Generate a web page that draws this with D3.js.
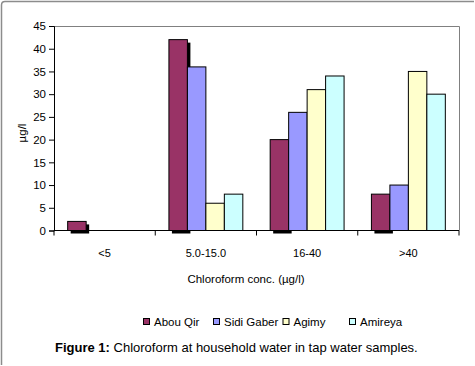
<!DOCTYPE html>
<html>
<head>
<meta charset="utf-8">
<script src="https://cdn.jsdelivr.net/npm/d3@7"></script>
<style>
  body { margin: 0; background: #fff; }
  svg { display: block; font-family: "Liberation Sans", Arial, sans-serif; }
</style>
</head>
<body>
<svg id="chart"></svg>
<script>
var width = 475
var height = 366

var categories = ["<5", "5.0-15.0", "16-40", ">40"]
var seriesNames = ["Abou Qir", "Sidi Gaber", "Agimy", "Amireya"]
var abouQir = [2, 42, 20, 8]
var sidiGaber = [0, 36, 26, 10]
var agimy = [0, 6, 31, 35]
var amireya = [0, 8, 34, 30]
var yTicks = [0, 5, 10, 15, 20, 25, 30, 35, 40, 45]

var colors = ["#993366", "#9999ff", "#ffffcc", "#ccffff"]
var seriesValues = [abouQir, sidiGaber, agimy, amireya]

var svg = d3.select("#chart")
    .attr("width", width)
    .attr("height", height)

// outer figure frame (top + left only)
svg.append("path")
    .attr("d", "M1.5,365 L1.5,5 Q1.5,1.5 5,1.5 L474,1.5")
    .attr("fill", "none")
    .attr("stroke", "#8c8c8c")
    .attr("stroke-width", 1.5)

var plotLeft = 54, plotRight = 459, plotTop = 26, plotBottom = 230.5

var x = d3.scaleBand()
    .domain(categories)
    .range([plotLeft, plotRight])
    .paddingInner(0)
    .paddingOuter(0)

var xs = d3.scaleBand()
    .domain(seriesNames)
    .range([0, x.bandwidth()])
    .paddingOuter(0.74)
    .paddingInner(0)

var y = d3.scaleLinear()
    .domain([0, 45])
    .range([plotBottom, plotTop])

// plot area border (top/right gray)
svg.append("path")
    .attr("d", `M${plotLeft},${plotTop + 0.5} L${plotRight + 0.5},${plotTop + 0.5} L${plotRight + 0.5},${plotBottom}`)
    .attr("fill", "none")
    .attr("stroke", "#808080")
    .attr("stroke-width", 1)

var rows = []
categories.forEach(function(c, i) {
    seriesNames.forEach(function(s, j) {
        if (seriesValues[j][i] > 0)
            rows.push({cat: c, series: s, value: seriesValues[j][i], color: colors[j]})
    })
})

// shadow behind Abou Qir bars
svg.append("g")
    .selectAll("rect")
    .data(rows.filter(d => d.series == "Abou Qir"))
    .enter()
    .append("rect")
        .attr("x", d => x(d.cat) + xs(d.series) + 3)
        .attr("y", d => y(d.value) + 3)
        .attr("width", xs.bandwidth())
        .attr("height", d => plotBottom - y(d.value))
        .attr("fill", "#000")

svg.append("g")
    .selectAll("rect")
    .data(rows)
    .enter()
    .append("rect")
        .attr("x", d => x(d.cat) + xs(d.series))
        .attr("y", d => y(d.value))
        .attr("width", xs.bandwidth())
        .attr("height", d => plotBottom - y(d.value))
        .attr("fill", d => d.color)
        .attr("stroke", "#000")
        .attr("stroke-width", 1)

// y axis
var yAxis = svg.append("g")
    .attr("transform", `translate(${plotLeft},0)`)
    .call(d3.axisLeft(y).tickValues(yTicks).tickSize(5).tickPadding(3))
yAxis.select(".domain").attr("stroke", "#000")
yAxis.selectAll("text")
    .style("font-size", "11.5px")
    .style("font-family", "Liberation Sans, Arial, sans-serif")
    .attr("fill", "#000")

// x axis
var xAxis = svg.append("g")
    .attr("transform", `translate(0,${plotBottom})`)
    .call(d3.axisBottom(x).tickSize(0).tickPadding(19))
xAxis.select(".domain").attr("d", `M${plotLeft},0H${plotRight}`).attr("stroke", "#000")
xAxis.selectAll("text")
    .style("font-size", "11px")
    .style("font-family", "Liberation Sans, Arial, sans-serif")
    .attr("fill", "#000")
xAxis.append("g")
    .selectAll("line")
    .data(categories.concat(["end"]))
    .enter()
    .append("line")
        .attr("x1", (d, i) => plotLeft + i * x.bandwidth())
        .attr("x2", (d, i) => plotLeft + i * x.bandwidth())
        .attr("y1", 0)
        .attr("y2", 5)
        .attr("stroke", "#000")

svg.append("text")
    .attr("x", 246)
    .attr("y", 283)
    .attr("text-anchor", "middle")
    .style("font-size", "11.5px")
    .text("Chloroform conc. (µg/l)")

svg.append("text")
    .attr("transform", "translate(26,133) rotate(-90)")
    .attr("text-anchor", "middle")
    .style("font-size", "11.5px")
    .text("µg/l")

// legend
var legendX = [143, 213, 282.5, 349]
var legend = svg.append("g")
    .selectAll("g")
    .data(seriesNames)
    .enter()
    .append("g")
        .attr("transform", (d, i) => `translate(${legendX[i]},318)`)
legend.append("rect")
    .attr("x", 0.5)
    .attr("y", 0.5)
    .attr("width", 6)
    .attr("height", 6)
    .attr("fill", (d, i) => colors[i])
    .attr("stroke", "#000")
legend.append("text")
    .attr("x", 11)
    .attr("y", 8)
    .style("font-size", "11.5px")
    .text(d => d)

var caption = svg.append("text")
    .attr("x", 55)
    .attr("y", 352)
    .style("font-size", "13px")
caption.append("tspan").style("font-weight", "bold").text("Figure 1:")
caption.append("tspan").text(" Chloroform at household water in tap water samples.")
</script>
</body>
</html>
